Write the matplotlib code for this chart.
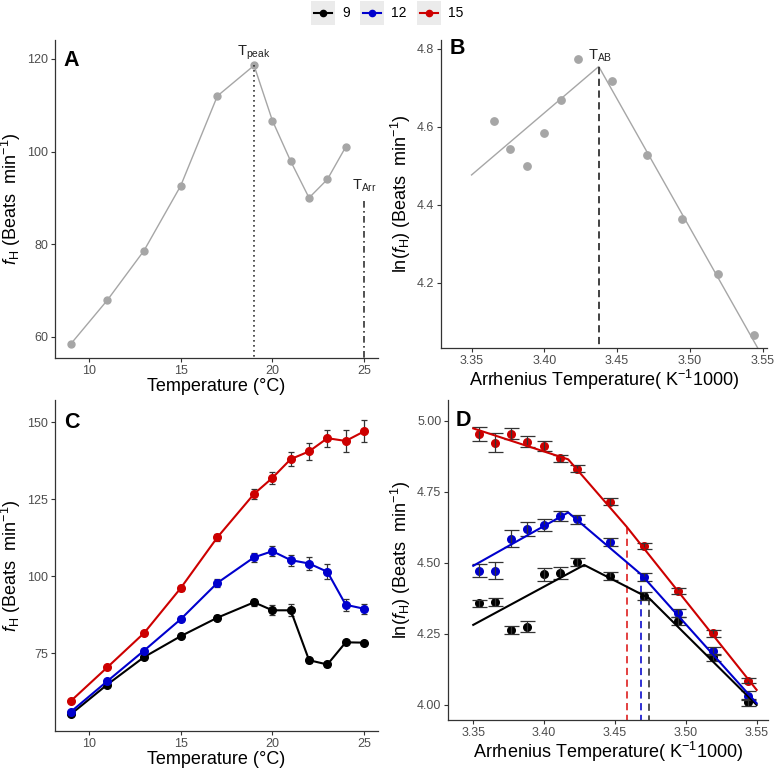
import matplotlib
matplotlib.use("Agg")
import matplotlib.pyplot as plt
from matplotlib.lines import Line2D
from matplotlib.patches import Rectangle

plt.rcParams['font.family'] = ['Liberation Sans', 'DejaVu Sans']
plt.rcParams['mathtext.fontset'] = 'custom'
plt.rcParams['mathtext.rm'] = 'Liberation Sans'
plt.rcParams['mathtext.it'] = 'Liberation Sans:italic'
plt.rcParams['mathtext.bf'] = 'Liberation Sans:bold'

# ---- data ----
temps = [9, 11, 13, 15, 17, 19, 20, 21, 22, 23, 24, 25]

# panel A (single fish)
temps_a = [9, 11, 13, 15, 17, 19, 20, 21, 22, 23, 24]
fh_a = [58.4, 67.9, 78.6, 92.6, 112.0, 118.6, 106.7, 97.9, 90.0, 94.0, 101.0]
t_peak, fh_peak = 19, 118.6
t_arr, fh_arr_top = 25, 89.3

# panel B
arr_b = [3.3653, 3.3767, 3.3881, 3.3997, 3.4112, 3.4229, 3.4465, 3.4704, 3.4947, 3.5193, 3.5442]
lnfh_b = [4.615, 4.543, 4.500, 4.585, 4.669, 4.775, 4.717, 4.528, 4.364, 4.222, 4.067]
fit_b_x = [3.35, 3.4374, 3.55]
fit_b_y = [4.477, 4.755, 4.011]

# panel C (acclimation groups)
groups = ["9", "12", "15"]
colors = ["black", "#0000CD", "#CD0000"]
fh_c = {
    "9": [55.2, 64.9, 73.8, 80.6, 86.6, 91.6, 89.0, 89.0, 72.8, 71.4, 78.6, 78.5],
    "12": [56.0, 66.0, 75.9, 86.1, 97.9, 106.2, 108.2, 105.3, 104.2, 101.5, 90.8, 89.5],
    "15": [59.5, 70.5, 81.6, 96.2, 112.7, 126.8, 132.0, 138.1, 140.6, 144.9, 144.0, 147.1],
}
err_c = {
    "9": [0.3, 0.4, 0.5, 0.6, 0.8, 1.2, 1.6, 2.0, 0.8, 0.7, 0.6, 0.6],
    "12": [0.3, 0.4, 0.5, 0.7, 1.2, 1.5, 1.6, 1.8, 2.2, 2.4, 2.0, 1.6],
    "15": [0.4, 0.5, 0.6, 0.8, 1.1, 1.7, 1.9, 2.2, 2.7, 2.8, 3.5, 3.6],
}

# panel D
arr_d = [3.5442, 3.5193, 3.4947, 3.4704, 3.4465, 3.4229, 3.4112, 3.3997, 3.3881, 3.3767, 3.3653, 3.3540]
lnfh_d = {
    "9": [4.008, 4.167, 4.296, 4.384, 4.453, 4.504, 4.465, 4.459, 4.275, 4.263, 4.360, 4.357],
    "12": [4.031, 4.189, 4.324, 4.451, 4.573, 4.653, 4.664, 4.633, 4.619, 4.585, 4.472, 4.471],
    "15": [4.085, 4.251, 4.400, 4.560, 4.715, 4.831, 4.867, 4.911, 4.926, 4.955, 4.923, 4.953],
}
err_d = {
    "9": [0.012, 0.012, 0.014, 0.014, 0.014, 0.014, 0.021, 0.023, 0.018, 0.014, 0.014, 0.012],
    "12": [0.016, 0.014, 0.014, 0.014, 0.014, 0.015, 0.018, 0.020, 0.026, 0.029, 0.029, 0.023],
    "15": [0.009, 0.012, 0.010, 0.011, 0.012, 0.013, 0.013, 0.016, 0.020, 0.019, 0.033, 0.025],
}
fit_d_x = {
    "9": [3.35, 3.4283, 3.4741, 3.55],
    "12": [3.35, 3.417, 3.4684, 3.55],
    "15": [3.35, 3.417, 3.4582, 3.55],
}
fit_d_y = {
    "9": [4.281, 4.492, 4.375, 3.999],
    "12": [4.489, 4.677, 4.459, 4.005],
    "15": [4.973, 4.864, 4.627, 4.052],
}
dash_colors = ["#444444", "#2020D0", "#E03030"]

W, H = 774, 769
fig = plt.figure(figsize=(W / 100, H / 100), dpi=100)


def add_ax(l, t, r, b):
    return fig.add_axes([l / W, 1 - b / H, (r - l) / W, (b - t) / H])


def style(ax):
    for s in ["top", "right"]:
        ax.spines[s].set_visible(False)
    for s in ["left", "bottom"]:
        ax.spines[s].set_color("#333333")
        ax.spines[s].set_linewidth(0.9)
    ax.tick_params(length=3, width=0.8, color="#333333", labelcolor="#4D4D4D", labelsize=9, pad=2)


grey = "#A6A6A6"
lab_fs = 13
ylab_a = r"$f_{\mathrm{H}}$ (Beats  min$^{-1}$)"
ylab_b = r"ln($f_{\mathrm{H}}$) (Beats  min$^{-1}$)"
xlab_b = r"Arrhenius Temperature( K$^{-1}$1000)"
arr_ticks = [3.35, 3.40, 3.45, 3.50, 3.55]

# ---- A ----
ax = add_ax(55, 40, 378, 358)
style(ax)
ax.plot(temps_a, fh_a, color=grey, lw=1.0, marker="o", ms=5, mec=grey, mfc=grey)
ax.plot([t_peak, t_peak], [fh_peak, 50], color="#333333", lw=1.2, ls=(0, (1, 2)))
ax.plot([t_arr, t_arr], [fh_arr_top, 50], color="#333333", lw=1.2, ls=(0, (4, 2, 1, 2)))
ax.text(t_peak, 121.4, r"T$_{\mathrm{peak}}$", ha="center", va="center", fontsize=10.5, color="#222222")
ax.text(t_arr, 92.6, r"T$_{\mathrm{Arr}}$", ha="center", va="center", fontsize=10.5, color="#222222")
ax.text(9.05, 119.6, "A", fontsize=15.5, fontweight="bold", ha="center", va="center")
ax.set_xlim(8.145, 25.76)
ax.set_ylim(55.4, 124.1)
ax.set_xticks([10, 15, 20, 25])
ax.set_yticks([60, 80, 100, 120])
ax.set_xlabel("Temperature (°C)", fontsize=lab_fs, labelpad=1)
ax.set_ylabel(ylab_a, fontsize=lab_fs, labelpad=3)

# ---- B ----
ax = add_ax(441, 40, 767, 348)
style(ax)
ax.plot(fit_b_x, fit_b_y, color=grey, lw=1.0)
ax.scatter(arr_b, lnfh_b, s=28, color=grey, zorder=3)
ax.plot([fit_b_x[1], fit_b_x[1]], [fit_b_y[1], 3.9], color="#333333", lw=1.3, ls=(0, (4, 2.5)))
ax.text(fit_b_x[1] + 0.001, 4.782, r"T$_{\mathrm{AB}}$", ha="center", va="center", fontsize=10.5, color="#222222")
ax.text(3.340, 4.8, "B", fontsize=15.5, fontweight="bold", ha="center", va="center")
ax.set_xlim(3.329, 3.553)
ax.set_ylim(4.0333, 4.823)
ax.set_xticks(arr_ticks)
ax.set_xticklabels([f"{v:.2f}" for v in arr_ticks])
ax.set_yticks([4.2, 4.4, 4.6, 4.8])
ax.set_xlabel(xlab_b, fontsize=lab_fs, labelpad=1)
ax.set_ylabel(ylab_b, fontsize=lab_fs, labelpad=3)

# ---- C ----
ax = add_ax(55, 400, 378, 730.7)
style(ax)
for g, c in zip(groups, colors):
    ax.errorbar(temps, fh_c[g], yerr=err_c[g], fmt="none", ecolor="#333333", elinewidth=0.9,
                capsize=2.2, capthick=0.9, zorder=2)
    ax.plot(temps, fh_c[g], color=c, lw=1.5, marker="o", ms=5.5, zorder=3)
ax.text(9.05, 150, "C", fontsize=15.5, fontweight="bold", ha="center", va="center")
ax.set_xlim(8.145, 25.76)
ax.set_ylim(49.9, 157.3)
ax.set_xticks([10, 15, 20, 25])
ax.set_yticks([75, 100, 125, 150])
ax.set_xlabel("Temperature (°C)", fontsize=lab_fs, labelpad=1)
ax.set_ylabel(ylab_a, fontsize=lab_fs, labelpad=3)

# ---- D ----
ax = add_ax(448.3, 400, 768, 720)
style(ax)
for g, c, dc in zip(groups, colors, dash_colors):
    ax.scatter(arr_d, lnfh_d[g], s=30, color=c, zorder=2)
    ax.errorbar(arr_d, lnfh_d[g], yerr=err_d[g], fmt="none", ecolor="#333333", elinewidth=0.9,
                capsize=5.4, capthick=0.9, zorder=3)
    ax.plot(fit_d_x[g], fit_d_y[g], color=c, lw=1.5, zorder=4)
    ax.plot([fit_d_x[g][2], fit_d_x[g][2]], [fit_d_y[g][2], 3.9], color=dc, lw=1.3,
            ls=(0, (4, 2.5)), zorder=1)
ax.text(3.343, 5.0, "D", fontsize=15.5, fontweight="bold", ha="center", va="center")
ax.set_xlim(3.3324, 3.558)
ax.set_ylim(3.946, 5.073)
ax.set_xticks(arr_ticks)
ax.set_xticklabels([f"{v:.2f}" for v in arr_ticks])
dt = [4.00, 4.25, 4.50, 4.75, 5.00]
ax.set_yticks(dt)
ax.set_yticklabels([f"{v:.2f}" for v in dt])
ax.set_xlabel(xlab_b, fontsize=lab_fs, labelpad=1)
ax.set_ylabel(ylab_b, fontsize=lab_fs, labelpad=3)

# ---- legend (top centre, grey keys like ggplot) ----
key_left = [311, 360, 417]
yc = 1 - 13 / H
for g, c, kl in zip(groups, colors, key_left):
    fig.add_artist(Rectangle((kl / W, 1 - 25 / H), 24 / W, 24 / H, transform=fig.transFigure,
                             facecolor="#EBEBEB", edgecolor="none"))
    fig.add_artist(Line2D([(kl + 3) / W, (kl + 21) / W], [yc, yc], transform=fig.transFigure,
                          color=c, lw=1.5))
    fig.add_artist(Line2D([(kl + 12) / W], [yc], transform=fig.transFigure, color=c,
                          marker="o", ms=4.5))
    fig.text((kl + 31) / W, yc, g, fontsize=10, va="center", ha="left", color="black")

fig.savefig("out.png", dpi=100)
